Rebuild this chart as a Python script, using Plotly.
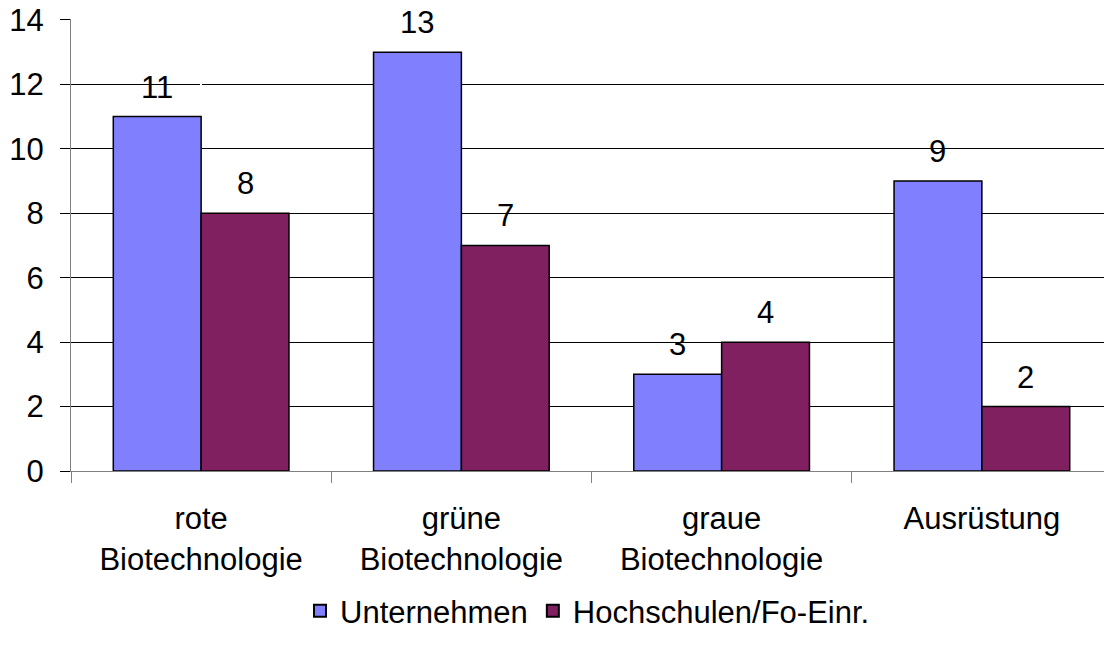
import plotly.graph_objects as go

categories = ["rote<br>Biotechnologie", "grüne<br>Biotechnologie", "graue<br>Biotechnologie", "Ausrüstung"]
unternehmen = [11, 13, 3, 9]
hochschulen = [8, 7, 4, 2]
series_names = ["Unternehmen", "Hochschulen/Fo-Einr."]
colors = ["#8080FF", "#802060"]
y_ticks = [0, 2, 4, 6, 8, 10, 12, 14]

FONT = "Liberation Sans, Arial, sans-serif"
FS = 31

xpos = list(range(len(categories)))
fig = go.Figure()
for name, vals, col in zip(series_names, [unternehmen, hochschulen], colors):
    fig.add_trace(go.Bar(x=xpos, y=vals, name=name, marker=dict(color=col, line=dict(color="black", width=1.5))))

# value labels
for vals, shift in [(unternehmen, -44), (hochschulen, 44)]:
    for xi, v in zip(xpos, vals):
        fig.add_annotation(x=xi, y=v, text=str(v), showarrow=False, xshift=shift, yshift=11,
                           yanchor="bottom", font=dict(family=FONT, size=FS, color="black"),
                           borderpad=0)

# invisible trace on xaxis2 for boundary ticks
fig.add_trace(go.Scatter(x=[xpos[0]], y=[0], xaxis="x2", mode="markers", marker=dict(opacity=0),
                         showlegend=False, hoverinfo="skip"))

xr = [-0.5, len(categories) - 0.5 - 8 / 260]
fig.update_layout(
    width=1104, height=645,
    margin=dict(l=71, r=0, t=19, b=174),
    paper_bgcolor="white", plot_bgcolor="white",
    barmode="group", bargap=0.325, bargroupgap=0,
    font=dict(family=FONT, size=FS, color="black"),
    xaxis=dict(range=xr, tickvals=xpos, ticktext=categories, ticks="", showgrid=False,
               showline=True, linecolor="#808080", linewidth=1, ticklabelstandoff=20,
               automargin=False, tickfont=dict(family=FONT, size=FS)),
    xaxis2=dict(range=xr, overlaying="x", side="bottom", tickvals=[i - 0.5 for i in xpos],
                ticks="outside", ticklen=11, tickcolor="#808080", showticklabels=False,
                showgrid=False, showline=False, automargin=False),
    yaxis=dict(range=[0, 14.03], tickvals=y_ticks, ticks="outside", ticklen=10, tickcolor="black",
               showgrid=True, gridcolor="black", gridwidth=1, showline=True, linecolor="#808080",
               zeroline=False, ticklabelstandoff=10, automargin=False, ticklabeloverflow="allow",
               tickfont=dict(family=FONT, size=FS)),
    legend=dict(orientation="h", x=0.5, xanchor="center", y=-0.31, yanchor="middle",
                font=dict(family=FONT, size=FS), itemsizing="constant"),
    showlegend=True,
)

fig.write_html("out.html", config={"displayModeBar": False},
               post_script="document.body.style.margin='0';document.body.style.overflow='hidden';")
